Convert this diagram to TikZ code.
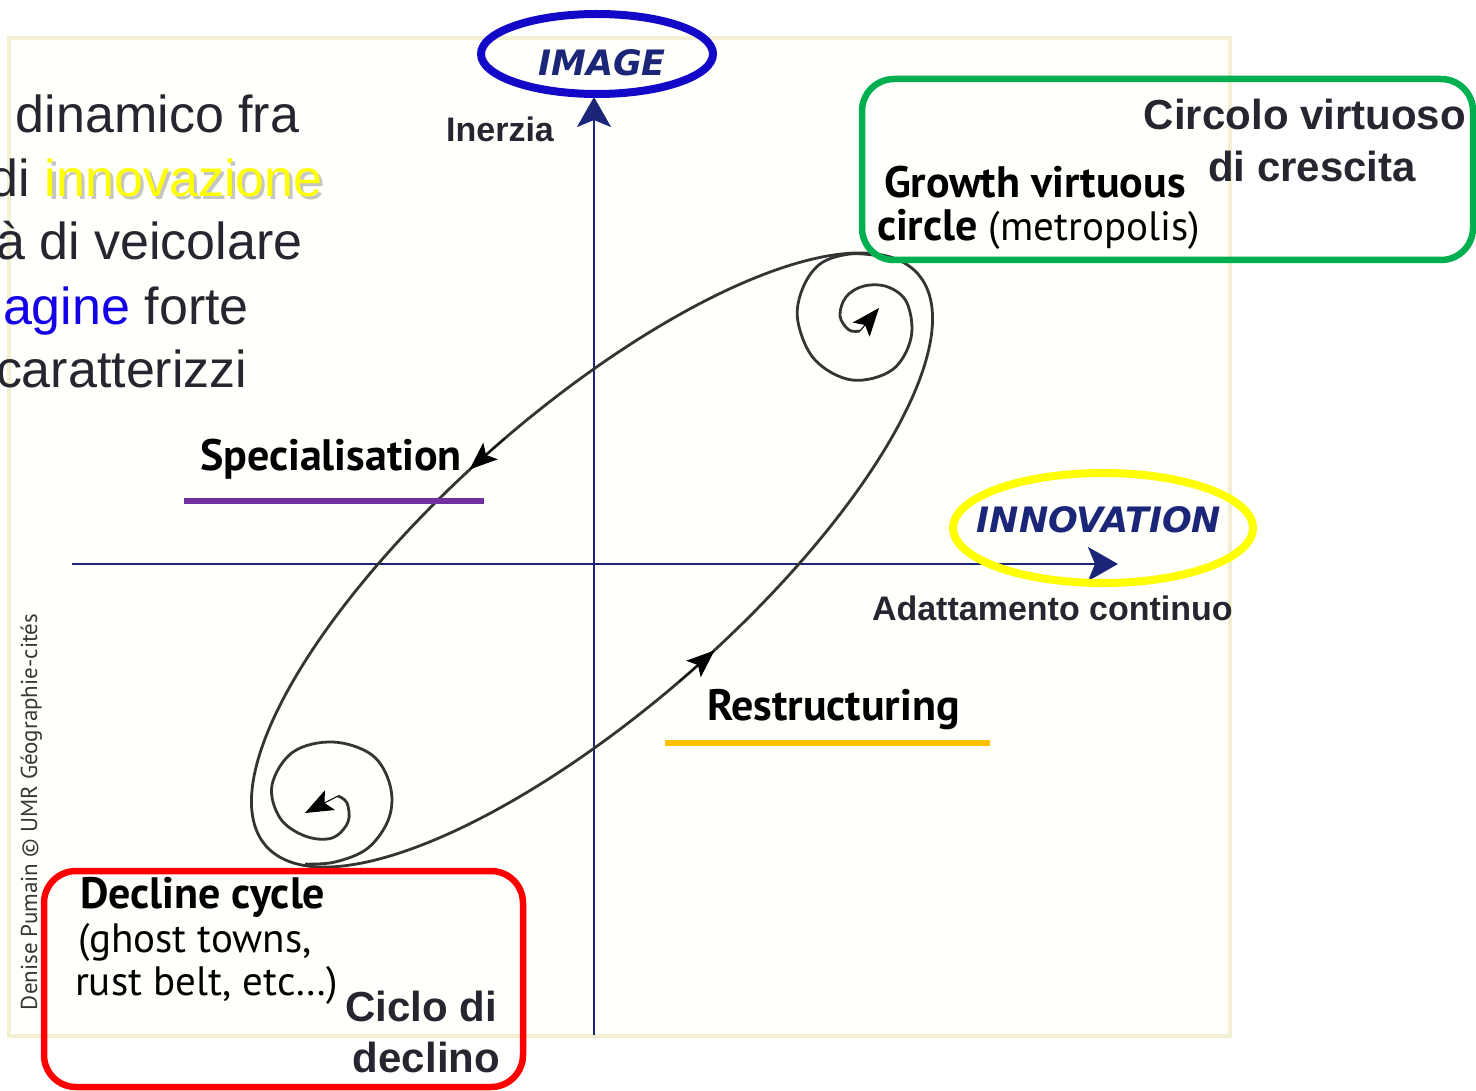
\documentclass[tikz,border=0pt]{standalone}
\usepackage{fontspec}
\setmainfont{Liberation Sans}
\newfontfamily\djv{DejaVu Sans}
\newfontfamily\hum{PT Sans}
\usetikzlibrary{arrows.meta}

\definecolor{ink}{RGB}{38,38,48}
\definecolor{navy}{RGB}{28,38,120}
\definecolor{ringblue}{RGB}{20,8,200}
\definecolor{ringyellow}{RGB}{255,255,0}
\definecolor{ringgreen}{RGB}{0,176,80}
\definecolor{ringred}{RGB}{255,0,0}
\definecolor{purplebar}{RGB}{112,48,160}
\definecolor{orangebar}{RGB}{255,192,0}
\definecolor{panel}{RGB}{255,255,251}
\definecolor{paneledge}{RGB}{243,239,210}
\definecolor{curvegray}{RGB}{52,52,52}
\definecolor{wordblue}{RGB}{20,0,230}
\definecolor{creditgray}{RGB}{55,55,55}

\begin{document}
\begin{tikzpicture}[x=1pt,y=-1pt,
  plain/.style={inner sep=0pt, outer sep=0pt},
  slide/.style={plain, text=ink, font=\fontsize{52}{60}\selectfont},
  boldlabel/.style={plain, text=ink, font=\bfseries\fontsize{34}{40}\selectfont},
  bigbold/.style={plain, text=ink, font=\bfseries\fontsize{42}{50}\selectfont},
  axisname/.style={plain, text=navy, font=\djv\bfseries\itshape\fontsize{35}{40}\selectfont},
  humbold/.style={plain, text=black, font=\hum\bfseries\fontsize{44}{48}\selectfont},
  humreg/.style={plain, text=black, font=\hum\fontsize{41}{48}\selectfont},
  axisline/.style={draw=navy, line width=2.6pt, -{Stealth[length=30pt,width=34pt,inset=7pt]}},
  flow/.style={draw=curvegray, line width=2.8pt},
  flowhead/.style={draw=black, fill=black, line width=1pt, -{Stealth[length=28pt,width=22pt,inset=6pt]}},
  ring/.style={line width=8pt},
  frame/.style={line width=6.5pt, rounded corners=32pt},
  bar/.style={line width=6pt},
]
\useasboundingbox (0,0) rectangle (1476,1091);
\fill[white] (0,0) rectangle (1476,1091);

% cream panel behind the diagram
\fill[panel] (9,38) rectangle (1230,1036);
\draw[paneledge, line width=4pt] (9,38) rectangle (1230,1036);

% slide text running in from the left
\node[slide, anchor=base west] (t1) at (16,133) {dinamico fra};
\node[plain, anchor=base west, text=gray, opacity=0.45, font=\fontsize{52}{60}\selectfont] (t2s) at (48,200) {innovazione};
\node[slide, anchor=base west] (t2) at (-10,197) {di \textcolor{ringyellow}{innovazione}};
\node[slide, anchor=base west] (t3) at (-4,260) {à di veicolare};
\node[slide, anchor=base west] (t4) at (3,325) {\textcolor{wordblue}{agine} forte};
\node[slide, anchor=base west] (t5) at (-4,388) {caratterizzi};

% axes
\coordinate (vbot) at (594,1035);
\coordinate (vtop) at (594,97);
\coordinate (hleft) at (72,564);
\coordinate (hright) at (1118,564);
\draw[axisline] (vbot) -- (vtop);
\draw[axisline] (hleft) -- (hright);

% main loop of the trajectory
\draw[flow] plot[domain=0:357, samples=120, smooth cycle, variable=\t]
  ({592+326*cos(\t)+98.5*sin(\t)},{560-286*cos(\t)+111.8*sin(\t)});

% direction marks on the loop
\coordinate (sA) at (504.9,438.4);
\coordinate (sB) at (469.5,469.5);
\draw[flowhead] (sA) -- (sB);
\coordinate (rA) at (679.1,681.6);
\coordinate (rB) at (714.5,650.5);
\draw[flowhead] (rA) -- (rB);

% growth spiral (top right)
\coordinate (ge) at (879,308);
\draw[flow] plot[smooth, tension=0.6] coordinates {
  (880,256) (850,254) (820,264) (802,290) (798,322) (815,360) (852,380)
  (892,370) (911,338) (907,303) (888,287) (864,286) (846,297) (840,316) (849,330) (860,331)};
\draw[flowhead] (860,331) -- (ge);

% decline spiral (bottom left)
\coordinate (de) at (305,813);
\draw[flow] plot[smooth, tension=0.6] coordinates {
  (305.2,864.1) (335,862) (368,848) (389,818) (390,785) (372,755) (333,742)
  (293,752) (272,785) (280,818) (305,836) (332,838) (348,822) (347,803) (338,796)};
\draw[flowhead] (338,796) -- (de);

% axis names and their rings
\node[axisname] (image) at (602,63) {IMAGE};
\draw[ring, ringblue] (597,54) ellipse [x radius=116pt, y radius=40pt];
\node[boldlabel, anchor=base] (inerzia) at (500,142) {Inerzia};

\node[axisname] (innov) at (1099,520) {INNOVATION};
\draw[ring, ringyellow] (1103,528) ellipse [x radius=150pt, y radius=55pt];
\node[boldlabel, anchor=base west] (adatt) at (872,620) {Adattamento continuo};

% phase labels
\node[humbold, anchor=base west] (spec) at (200,470) {Specialisation};
\draw[bar, purplebar] (184,501) -- (484,501);
\node[humbold, anchor=base west] (restr) at (707,720) {Restructuring};
\draw[bar, orangebar] (665,743) -- (990,743);

% growth circle box
\draw[frame, ringgreen] (862,79) rectangle (1473,260);
\node[humbold, anchor=base west] (grow1) at (884,198) {Growth virtuous};
\node[humreg, anchor=base west] (grow2) at (877,241) {{\fontsize{44}{48}\selectfont\bfseries circle} (metropolis)};
\node[bigbold, anchor=base] (circ1) at (1305,130) {Circolo virtuoso};
\node[bigbold, anchor=base] (circ2) at (1312,182) {di crescita};

% decline cycle box
\draw[frame, ringred] (44,871) rectangle (523,1087);
\node[humbold, anchor=base west] (dec1) at (80,908) {Decline cycle};
\node[humreg, anchor=base west] (dec2) at (78,952) {(ghost towns,};
\node[humreg, anchor=base west] (dec3) at (75,995) {rust belt, etc…)};
\node[bigbold, anchor=base east] (cic1) at (497,1021) {Ciclo di};
\node[bigbold, anchor=base east] (cic2) at (500,1072) {declino};

% credit line
\node[plain, rotate=90, anchor=base west, text=creditgray, font=\hum\fontsize{23}{28}\selectfont] (credit) at (37,1010) {Denise Pumain © UMR Géographie-cités};
\end{tikzpicture}
\end{document}
